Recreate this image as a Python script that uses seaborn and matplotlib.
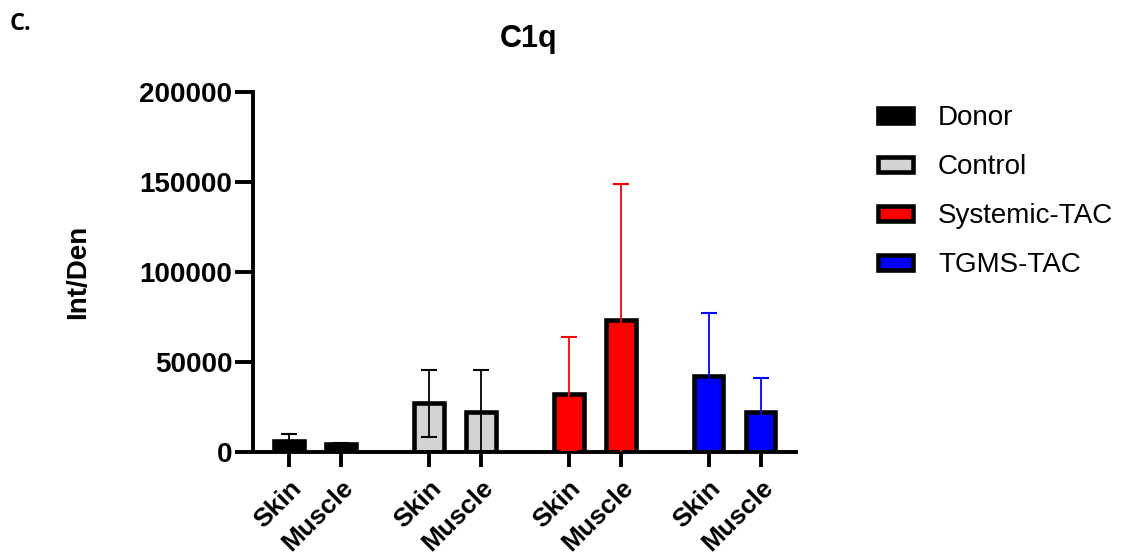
import numpy as np
import pandas as pd
import matplotlib
matplotlib.use("Agg")
import matplotlib.pyplot as plt
import matplotlib.font_manager as fm
import seaborn as sns
from matplotlib.patches import Patch

groups = ["Donor", "Control", "Systemic-TAC", "TGMS-TAC"]
tissues = ["Skin", "Muscle"]
means = [6000, 4500, 27000, 22500, 32500, 73500, 42000, 22500]
sds = [4000, 500, 18500, 23000, 31500, 75500, 35000, 18500]
colors = {"Donor": "#000000", "Control": "#D3D3D3", "Systemic-TAC": "#FF0000", "TGMS-TAC": "#0000FF"}
err_colors = {"Donor": "#000000", "Control": "#000000", "Systemic-TAC": "#FF0000", "TGMS-TAC": "#0000FF"}

sns.set_theme(style="ticks")
fam = "Liberation Sans"
plt.rcParams['font.family'] = [fam, 'DejaVu Sans']
for k in ["text.color", "axes.labelcolor", "xtick.color", "ytick.color", "axes.edgecolor"]:
    plt.rcParams[k] = "black"

def fp(size, weight="normal"):
    return fm.FontProperties(family=[fam, "DejaVu Sans"], weight=weight, size=size)

group_gap = 2.69
pos, grp, tis = [], [], []
for gi, g in enumerate(groups):
    for ti, t in enumerate(tissues):
        pos.append(gi * group_gap + ti)
        grp.append(g)
        tis.append(t)
df = pd.DataFrame({"pos": pos, "group": grp, "tissue": tis, "mean": means, "sd": sds})

W, H = 1133, 557
L, R, B, T = 253, 796, 452, 92
fig = plt.figure(figsize=(W/100, H/100), dpi=100)
ax = fig.add_axes([L/W, 1-B/H, (R-L)/W, (B-T)/H])

sns.barplot(data=df, x="pos", y="mean", hue="group", palette=colors, native_scale=True,
            dodge=False, width=0.57, errorbar=None, edgecolor="black", linewidth=3.3,
            saturation=1, legend=False, ax=ax, zorder=2)

for _, r in df.iterrows():
    ax.errorbar(r["pos"], r["mean"], yerr=r["sd"], color=err_colors[r["group"]],
                elinewidth=1.3, capsize=6, capthick=1.5, zorder=3, fmt="none")

unit = 52.0
ax.set_xlim((L - 289) / unit, (R - 289) / unit)
ax.set_ylim(0, 200000)
ax.set_yticks([0, 50000, 100000, 150000, 200000])
ax.set_yticklabels(["0", "50000", "100000", "150000", "200000"], fontproperties=fp(20, "bold"))
ax.set_xticks(df["pos"])
ax.set_xticklabels(df["tissue"], rotation=45, ha="right", rotation_mode="anchor",
                   fontproperties=fp(19, "bold"))
ax.tick_params(axis="y", length=13, width=2.8, direction="out", pad=2, colors="black")
ax.tick_params(axis="x", length=11, width=2.8, direction="out", pad=6, colors="black")
for s in ["top", "right"]:
    ax.spines[s].set_visible(False)
for s in ["left", "bottom"]:
    ax.spines[s].set_linewidth(2.8)
    ax.spines[s].set_color("black")
ax.set_xlabel("")
ax.set_ylabel("Int/Den", fontproperties=fp(20, "bold"))
ax.yaxis.set_label_coords((78 - L) / (R - L), 0.5)
ax.yaxis.label.set_va("center")
ax.set_facecolor("white")
ax.grid(False)

fig.text(529/W, 1-47/H, "C1q", fontproperties=fp(22, "bold"), ha="center", va="baseline")
fig.text(10/W, 1-30/H, "C.", fontsize=17, fontweight="bold", ha="left", va="baseline",
         family=["Open Sans", "DejaVu Sans"])

handles = [Patch(facecolor=colors[g], edgecolor="black", linewidth=3.3, label=g) for g in groups]
fig.legend(handles=handles, loc="upper left", bbox_to_anchor=(878/W, 1-105/H),
           frameon=False, prop=fp(20), handlelength=1.26, handleheight=0.45,
           handletextpad=0.9, labelspacing=0.83, borderpad=0, borderaxespad=0)

fig.savefig("out.png", dpi=100, facecolor="white")
